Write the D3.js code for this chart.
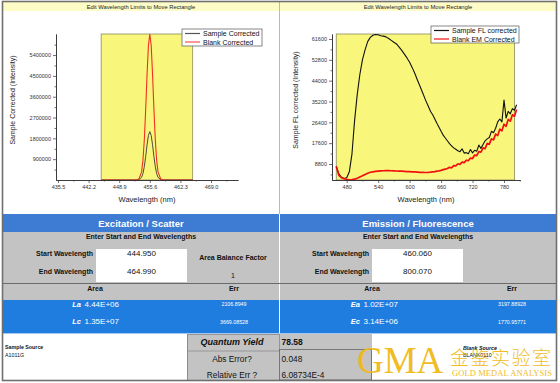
<!DOCTYPE html>
<html>
<head>
<meta charset="utf-8">
<script src="https://cdn.jsdelivr.net/npm/d3@7"></script>
<style>
body { margin: 0; background: #fff; }
svg { display: block; font-family: "Liberation Sans", Arial, sans-serif; }
</style>
</head>
<body>
<svg width="560" height="383"></svg>
<script>
// excitation / scatter peak (left chart)
const exWl     = [445.0, 450.0, 452.0, 452.6, 453.2, 453.8, 454.1, 454.4, 454.7, 455.0, 455.3, 455.6,
                  455.9, 456.2, 456.5, 456.8, 457.1, 457.4, 458.0, 458.6, 460.0, 465.0];
const exBlank  = [0, 0, 1000, 2000, 40000, 350000, 850000, 1750000, 3070000, 4570000, 5820000, 6300000,
                  5820000, 4570000, 3070000, 1750000, 850000, 350000, 40000, 2000, 0, 0];
const exSample = [0, 0, 0, 300, 13000, 116000, 280000, 580000, 1020000, 1520000, 1930000, 2090000,
                  1930000, 1520000, 1020000, 580000, 280000, 116000, 13000, 300, 0, 0];
const exTicksX = [435.5, 442.2, 448.9, 455.6, 462.3, 469.0];
const exTicksY = [900000, 1800000, 2700000, 3600000, 4500000, 5400000];
const exLimits = [444.950, 464.990];

// emission / fluorescence (right chart)
const emWl = [460, 465, 470, 475, 480, 485, 490, 495, 500, 505,
              510, 515, 520, 525, 530, 535, 540, 545, 550, 555,
              560, 565, 570, 575, 580, 585, 590, 595, 600, 605,
              610, 615, 620, 625, 630, 635, 640,
              644, 648, 652, 656, 660, 664, 668, 672, 676, 680,
              684, 688, 692, 696, 700, 704, 708, 712, 716, 720,
              724, 728, 732, 736, 740, 744, 748, 752, 756, 760,
              764, 768, 772, 776, 780, 784, 788, 792, 796, 800,
              804];
const emSample = [7900, 4600, 3200, 2700, 3000, 5500, 13000, 27000, 38000, 46500,
                  52800, 57000, 60500, 62300, 63200, 63500, 63400, 63000, 62800, 62500,
                  61800, 61000, 60200, 59500, 58200, 56800, 55200, 53600, 51800, 49500,
                  47000, 44200, 41500, 38800, 36000, 33500, 31000,
                  29600, 27800, 26000, 24300, 22600, 21000, 19800, 18600, 17400, 16500,
                  15600, 15000, 14400, 14000, 15200, 13400, 13600, 13100, 14900, 13500,
                  14600, 14200, 16800, 15400, 17000, 18600, 19400, 20000, 22600, 22000,
                  23900, 26600, 27800, 26600, 35800, 28200, 31000, 30000, 32200, 31500,
                  33800];
const emBlank = [7700, 4000, 3000, 2600, 2300, 2100, 2200, 2400, 2800, 3300,
                 3800, 4400, 4900, 5300, 5500, 5700, 5800, 5900, 5950, 6000,
                 6000, 5950, 5900, 5850, 5800, 5750, 5700, 5600, 5550, 5500,
                 5450, 5400, 5300, 5250, 5200, 5250, 5350,
                 5500, 5600, 5800, 5900, 6100, 6400, 6600, 6900, 7400, 7200,
                 8100, 8000, 8900, 8600, 9600, 9400, 10400, 10200, 11300, 11100,
                 12600, 12300, 14000, 13800, 15600, 15300, 17500, 17200, 19400, 19000,
                 21400, 20800, 23500, 22800, 25600, 24700, 27600, 26900, 29600, 29000,
                 31800];
const emTicksX = [480, 540, 600, 660, 720, 780];
const emTicksY = [8800, 17600, 26400, 35200, 44000, 52800, 61600];
const emLimits = [460.060, 800.070];

// results
const exAreas = [["La", "4.44E+06", "2106.8949"], ["Lc", "1.35E+07", "3669.08528"]];
const emAreas = [["Ea", "1.02E+07", "3197.88928"], ["Ec", "3.14E+06", "1770.95771"]];
const qyLabels = ["Quantum Yield", "Abs Error?", "Relative Err ?"];
const qyValues = ["78.58", "0.048", "6.08734E-4"];

const svg = d3.select("svg");
const YELLOW = "#f8f77c";
const HEAD_BLUE = "#3e7bd2";
const ROW_BLUE = "#1f7ddf";
const GRAY = "#c3c3c3";

function txt(g, x, y, s, o = {}) {
    return g.append("text")
        .attr("x", x).attr("y", y)
        .attr("text-anchor", o.anchor || "start")
        .attr("font-size", o.size || 7)
        .attr("font-weight", o.bold ? "bold" : null)
        .attr("font-style", o.italic ? "italic" : null)
        .attr("fill", o.fill || "#111")
        .text(s);
}

function drawChart(o) {
    const g = svg.append("g");
    const x = d3.scaleLinear().domain(o.xDomain).range([o.left, o.right]);
    const y = d3.scaleLinear().domain(o.yDomain).range([o.bottom, o.top]);

    // the wavelength window rectangle
    g.append("rect")
        .attr("x", x(o.limits[0])).attr("y", o.top)
        .attr("width", x(o.limits[1]) - x(o.limits[0]))
        .attr("height", o.bottom - o.top)
        .attr("fill", YELLOW).attr("stroke", "#8a8a60").attr("stroke-width", 0.8);

    const line = d3.line().x((d, i) => x(o.wl[i])).y(d => y(d));
    o.series.forEach(s => {
        g.append("path").datum(s.values)
            .attr("d", line)
            .attr("fill", "none")
            .attr("stroke", s.color)
            .attr("stroke-width", s.width)
            .attr("stroke-linejoin", "round");
    });

    // axes with minor ticks
    const minorX = d3.range(0, o.ticksX.length + 1).map(i => o.ticksX[0] + (i - 0.5) * (o.ticksX[1] - o.ticksX[0]))
        .filter(v => v > o.xDomain[0] && v < o.xDomain[1]);
    const minorY = d3.range(0, o.ticksY.length + 1).map(i => o.ticksY[0] + (i - 0.5) * (o.ticksY[1] - o.ticksY[0]))
        .filter(v => v > o.yDomain[0] && v < o.yDomain[1]);

    const styleAxis = a => {
        a.select(".domain").attr("stroke", "#333").attr("stroke-width", 0.8);
        a.selectAll(".tick line").attr("stroke", "#333").attr("stroke-width", 0.7);
        a.selectAll("text").attr("font-size", 5.5).attr("fill", "#333")
            .attr("font-family", "'Liberation Sans', Arial, sans-serif");
    };

    g.append("g").attr("transform", `translate(0,${o.bottom})`)
        .call(d3.axisBottom(x).tickValues(minorX).tickSize(1.5).tickFormat("").tickSizeOuter(0))
        .call(styleAxis);
    g.append("g").attr("transform", `translate(0,${o.bottom})`)
        .call(d3.axisBottom(x).tickValues(o.ticksX).tickSize(3).tickPadding(2).tickFormat(o.fmtX).tickSizeOuter(0))
        .call(styleAxis);
    g.append("g").attr("transform", `translate(${o.left},0)`)
        .call(d3.axisLeft(y).tickValues(minorY).tickSize(1.5).tickFormat("").tickSizeOuter(0))
        .call(styleAxis);
    g.append("g").attr("transform", `translate(${o.left},0)`)
        .call(d3.axisLeft(y).tickValues(o.ticksY).tickSize(3).tickPadding(2).tickFormat(d3.format("d")).tickSizeOuter(0))
        .call(styleAxis);

    txt(g, (o.left + o.right) / 2, 201.5, "Wavelength (nm)", { anchor: "middle", size: 7.5, fill: "#222" });
    txt(g, 0, 0, o.yTitle, { anchor: "middle", size: 7, fill: "#222" })
        .attr("transform", `translate(${o.yTitleX},100) rotate(-90)`);

    // legend
    const L = o.legend;
    g.append("rect").attr("x", L.x).attr("y", L.y).attr("width", L.w).attr("height", 17)
        .attr("fill", "#fff").attr("stroke", "#555").attr("stroke-width", 0.7);
    o.series.forEach((s, i) => {
        const yy = L.y + 4.5 + i * 8.5;
        g.append("line").attr("x1", L.x + 3).attr("x2", L.x + 18).attr("y1", yy).attr("y2", yy)
            .attr("stroke", s.legendColor || s.color).attr("stroke-width", 1.2);
        txt(g, L.x + 21, yy + 2.5, s.name, { size: 7, fill: "#111" });
    });
}

// title bars and panel divider
[[3, 276], [280, 276]].forEach(([x0, w]) => {
    svg.append("rect").attr("x", x0).attr("y", 2).attr("width", w).attr("height", 9).attr("fill", "#fdfbc6");
    txt(svg, x0 + w / 2, 8.8, "Edit Wavelength Limits to Move Rectangle", { anchor: "middle", size: 5.8, fill: "#222" });
});
svg.append("line").attr("x1", 279.5).attr("x2", 279.5).attr("y1", 2).attr("y2", 214)
    .attr("stroke", "#b8b8b8").attr("stroke-width", 1);

drawChart({
    left: 56, right: 238, top: 34, bottom: 180,
    xDomain: [435.06, 474.91], yDomain: [0, 6310000],
    wl: exWl, limits: exLimits, ticksX: exTicksX, ticksY: exTicksY,
    fmtX: d3.format(".1f"),
    yTitle: "Sample Corrected (Intensity)", yTitleX: 15,
    legend: { x: 182, y: 29, w: 80 },
    series: [
        { name: "Sample Corrected", values: exSample, color: "#4a4a3a", legendColor: "#555", width: 1 },
        { name: "Blank Corrected", values: exBlank, color: "#f03020", legendColor: "#ff5050", width: 1.1 }
    ]
});

drawChart({
    left: 332, right: 520, top: 34, bottom: 180,
    xDomain: [451.96, 810.5], yDomain: [2040, 63710],
    wl: emWl, limits: emLimits, ticksX: emTicksX, ticksY: emTicksY,
    fmtX: d3.format("d"),
    yTitle: "Sample FL corrected (Intensity)", yTitleX: 298,
    legend: { x: 431, y: 26, w: 88 },
    series: [
        { name: "Sample FL corrected", values: emSample, color: "#111", width: 1.1 },
        { name: "Blank EM Corrected", values: emBlank, color: "#f01010", legendColor: "#f01010", width: 1.7 }
    ]
});

// ---- results table ----
const panels = [
    { x0: 3, title: "Excitation / Scatter", limits: exLimits, labelX: 93, boxX: 96, areas: exAreas,
      areaX: 95, errX: 234, tagX: 81 },
    { x0: 280, title: "Emission / Fluorescence", limits: emLimits, labelX: 369, boxX: 372, areas: emAreas,
      areaX: 372, errX: 512, tagX: 360 }
];
panels.forEach(p => {
    const w = 276;
    const cx = p.x0 + w / 2;
    svg.append("rect").attr("x", p.x0).attr("y", 214).attr("width", w).attr("height", 18).attr("fill", HEAD_BLUE);
    txt(svg, cx, 226.5, p.title, { anchor: "middle", size: 9.5, bold: true, fill: "#fff" });
    svg.append("rect").attr("x", p.x0).attr("y", 232).attr("width", w).attr("height", 51).attr("fill", GRAY);
    txt(svg, cx, 238.5, "Enter Start and End Wavelengths", { anchor: "middle", size: 7, bold: true });
    txt(svg, p.labelX, 255.5, "Start Wavelength", { anchor: "end", size: 7, bold: true });
    txt(svg, p.labelX, 273.5, "End Wavelength", { anchor: "end", size: 7, bold: true });
    svg.append("rect").attr("x", p.boxX).attr("y", 249).attr("width", 91).attr("height", 33).attr("fill", "#fff");
    txt(svg, p.boxX + 45.5, 256, p.limits[0].toFixed(3), { anchor: "middle", size: 8 });
    txt(svg, p.boxX + 45.5, 274, p.limits[1].toFixed(3), { anchor: "middle", size: 8 });

    // area / err header row
    svg.append("rect").attr("x", p.x0).attr("y", 284).attr("width", w).attr("height", 16).attr("fill", GRAY);
    txt(svg, p.areaX, 290.5, "Area", { anchor: "middle", size: 7, bold: true });
    txt(svg, p.errX, 290.5, "Err", { anchor: "middle", size: 7, bold: true });

    svg.append("rect").attr("x", p.x0).attr("y", 300).attr("width", w).attr("height", 33).attr("fill", ROW_BLUE);
    p.areas.forEach((a, i) => {
        const yy = 306.8 + i * 17.5;
        txt(svg, p.tagX, yy, a[0], { anchor: "end", size: 7.5, bold: true, italic: true, fill: "#fff" });
        txt(svg, p.tagX + 3.5, yy, a[1], { size: 8, fill: "#fff" });
        txt(svg, p.errX, yy - 0.5, a[2], { anchor: "middle", size: 5.3, fill: "#fff" });
    });
});
txt(svg, 233, 260, "Area Balance Factor", { anchor: "middle", size: 7, bold: true });
txt(svg, 233, 277.5, "1", { anchor: "middle", size: 7 });
svg.append("line").attr("x1", 3).attr("x2", 556).attr("y1", 283.5).attr("y2", 283.5).attr("stroke", "#6a6a6a");
svg.append("line").attr("x1", 3).attr("x2", 556).attr("y1", 333.5).attr("y2", 333.5).attr("stroke", "#a8c8ee");

// bottom block
txt(svg, 5, 349, "Sample Source", { size: 5.3, bold: true });
txt(svg, 5, 356.5, "A1011G", { size: 5.3 });

svg.append("rect").attr("x", 187).attr("y", 334).attr("width", 185).attr("height", 46).attr("fill", GRAY);
svg.append("rect").attr("x", 187.5).attr("y", 334.5).attr("width", 92).attr("height", 16.5)
    .attr("fill", "none").attr("stroke", "#8c8c8c").attr("stroke-width", 0.8);
svg.append("rect").attr("x", 279.5).attr("y", 349.5).attr("width", 92).attr("height", 30.5)
    .attr("fill", "none").attr("stroke", "#666").attr("stroke-width", 0.8);
svg.append("line").attr("x1", 187.5).attr("x2", 187.5).attr("y1", 334).attr("y2", 380).attr("stroke", "#8c8c8c");

txt(svg, 232, 345, qyLabels[0], { anchor: "middle", size: 9, bold: true, italic: true });
txt(svg, 232, 361.5, qyLabels[1], { anchor: "middle", size: 8.3 });
txt(svg, 232, 377.5, qyLabels[2], { anchor: "middle", size: 8.3 });
txt(svg, 281.5, 344.5, qyValues[0], { size: 8.5, bold: true });
txt(svg, 281.5, 361.5, qyValues[1], { size: 8.3 });
txt(svg, 281.5, 377.5, qyValues[2], { size: 8.3 });

txt(svg, 463, 349.5, "Blank Source", { size: 5.3, bold: true, italic: true });
txt(svg, 463, 357, "BLANK0110", { size: 5.3 });

// watermark
const wm = svg.append("g").attr("fill", "#f0b916").attr("opacity", 0.95);
wm.append("text").attr("x", 357).attr("y", 372.5).attr("font-family", "'Liberation Serif', serif")
    .attr("font-size", 37).text("GMA");
wm.append("text").attr("x", 450).attr("y", 364.5).attr("font-family", "'Noto Sans CJK SC'")
    .attr("font-size", 19).attr("font-weight", 300).attr("textLength", 101).text("金鉴实验室");
wm.append("text").attr("x", 452).attr("y", 376).attr("font-family", "'Liberation Serif', serif")
    .attr("font-size", 8.5).attr("textLength", 100).text("GOLD MEDAL ANALYSIS");

// outer frame
svg.append("rect").attr("x", 2.5).attr("y", 1.5).attr("width", 554).attr("height", 379)
    .attr("fill", "none").attr("stroke", "#707070").attr("stroke-width", 1.6);
</script>
</body>
</html>
